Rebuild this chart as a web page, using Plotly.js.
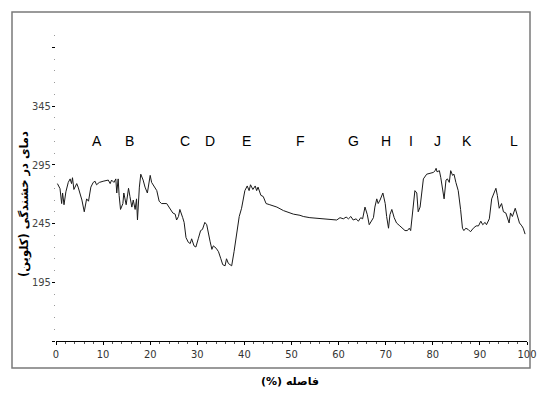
<!DOCTYPE html>
<html>
<head>
<meta charset="utf-8">
<script src="https://cdn.plot.ly/plotly-3.0.1.min.js"></script>
<style>
html,body{margin:0;padding:0;background:#fff;}
#chart{width:541px;height:394px;}
</style>
</head>
<body>
<div id="chart"></div>
<script>
// Distance along the transect (%)
const distance = [0.3,0.85,1.2,1.4,1.7,2.1,2.6,3.0,3.3,3.5,3.8,4.4,4.7,5.5,6.0,6.5,6.9,7.4,7.9,8.3,8.6,9.2,10.0,11.1,11.5,11.8,12.3,12.7,12.9,13.2,13.4,13.7,14.2,14.4,14.9,15.4,15.7,16.1,16.4,16.8,17.1,17.3,17.7,18.0,18.5,18.9,19.4,20.0,20.3,21.0,21.4,21.9,22.4,23.5,24.2,24.8,25.3,25.6,26.0,26.3,26.9,27.2,27.6,28.1,28.5,28.8,29.3,29.7,30.2,30.7,31.1,31.6,32.0,32.3,32.7,33.1,33.4,34.0,34.5,35.0,35.4,35.9,36.2,36.6,37.3,37.8,38.4,38.9,39.4,39.8,40.1,40.6,41.0,41.3,41.8,42.3,42.6,42.9,43.5,44.0,44.6,45.4,46.9,48.3,49.7,50.4,51.8,52.5,53.9,56.8,59.6,60.3,61.0,61.6,62.1,62.6,63.1,63.7,64.2,64.7,65.1,65.6,66.1,66.5,67.0,67.4,67.7,68.1,68.4,68.8,69.4,69.9,70.2,70.6,70.9,71.3,71.8,72.3,73.0,74.1,74.6,75.0,75.3,75.5,75.9,76.2,76.6,76.9,77.3,77.6,78.0,78.7,79.4,80.1,80.5,80.7,80.9,81.4,81.7,82.1,82.4,82.8,83.1,83.5,83.8,84.2,84.5,84.9,85.4,85.9,86.3,86.6,87.0,87.5,88.0,88.6,89.2,89.7,90.2,90.6,91.1,91.4,92.0,92.5,93.0,93.4,93.7,94.1,94.6,95.0,95.5,95.8,96.2,96.5,96.9,97.5,97.8,98.4,98.9,99.2,99.6];
// Brightness temperature (K)
const brightnessTemp = [279,274.7,262,271,261,272,280,283,279,284,274,279,276,265,255,266,264,276,280,281,278,280,281,282,279,282,280,283,271,283,269,257,262,271,261,275,268,259,265,257,266,248,276,287,282,276,271,286,280,275,273,264,262,262,258,254,253,248,251,257,250,246,233,229,228,232,226,225,232,239,240,246,244,237,230,223,226,224,221,215,210,209,215,211,209,221,237,251,258,265,273,277,273,278,274,277,273,276,269,268,262,261,259,256,254,253,252,251,250,249,248,250,249,250.5,249,251,248,249,247,250,249,259,252.5,244,247,250,259,266,262,265,271,262,251,241,252.5,257,250,245.5,243,239,239,241,239,245.5,262,273,271,255,259,271,283,287,288,288.5,290,292,289,290,284,273,266,282,283,280,290,286,287,280,273,257,241,239,241,240,238,241,243,243,247,244,246,244,249,266,271,275,269,258,262,255,254,251,245.5,254,251,258,254,245.5,243,241,236];

// Site labels and their locations along the transect (%)
const siteLabels = ['A','B','C','D','E','F','G','H','I','J','K','L'];
const siteDistance = [8.6,15.7,27.4,32.6,40.5,52.0,63.1,70.1,75.3,81.0,87.2,97.2];

// Axis ticks
const yTickVals = [145,195,245,295,345,395];
const yTickText = ['','195','245','295','345',''];
const xTickVals = [0,10,20,30,40,50,60,70,80,90,100];

const xTitle = '\u200Fفاصله (%)\u200F';
const yTitle = '\u200Fدمای در خشندگی (کلوین)\u200F';

const W = 541, H = 394;
const mL = 56, mR = 14, mT = 35, mB = 53;
const pw = W - mL - mR, ph = H - mT - mB;
const px = p => (p - mL) / pw;
const py = p => (H - mB - p) / ph;

const trace = {
  x: distance, y: brightnessTemp, type: 'scatter', mode: 'lines',
  line: {color: '#1a1a1a', width: 1}, hoverinfo: 'skip'
};

const annotations = siteLabels.map((t, i) => ({
  x: siteDistance[i], y: 315, xref: 'x', yref: 'y', text: t, showarrow: false,
  xanchor: 'center', yanchor: 'middle',
  font: {family: 'Liberation Sans, Arial, sans-serif', size: 14, color: '#000'}
}));
annotations.push({
  x: px(290), y: py(381), xref: 'paper', yref: 'paper', text: '<b>' + xTitle + '</b>',
  xanchor: 'center', yanchor: 'middle',
  showarrow: false, font: {family: 'DejaVu Sans, sans-serif', size: 11, color: '#000'}
});
annotations.push({
  x: px(24), y: py(204), xref: 'paper', yref: 'paper', text: '<b>' + yTitle + '</b>',
  xanchor: 'center', yanchor: 'middle',
  textangle: -90, showarrow: false, font: {family: 'DejaVu Sans, sans-serif', size: 11.5, color: '#000'}
});

const layout = {
  width: W, height: H,
  margin: {l: mL, r: mR, t: mT, b: mB, pad: 0},
  paper_bgcolor: '#fff', plot_bgcolor: '#fff',
  showlegend: false,
  xaxis: {
    range: [0, 100], tickvals: xTickVals, showgrid: false, zeroline: false,
    showline: true, linecolor: '#000', linewidth: 1,
    ticks: 'outside', ticklen: 3, tickcolor: '#000', tickwidth: 1,
    minor: {dtick: 2, tick0: 0, ticks: 'outside', ticklen: 1.5, tickcolor: '#555', tickwidth: 1},
    tickfont: {family: 'Liberation Sans Narrow, DejaVu Sans Condensed, sans-serif', size: 11, color: '#333'}
  },
  yaxis: {
    range: [145, 405.5], tickvals: yTickVals, ticktext: yTickText,
    showgrid: false, zeroline: false, showline: false,
    ticks: 'outside', ticklen: 3, tickcolor: '#000', tickwidth: 1,
    ticklabelstandoff: -1,
    minor: {dtick: 10, tick0: 145, ticks: 'outside', ticklen: 1, tickcolor: '#999', tickwidth: 1},
    tickfont: {family: 'Liberation Sans Narrow, DejaVu Sans Condensed, sans-serif', size: 11, color: '#444'}
  },
  annotations: annotations,
  shapes: [{
    type: 'rect', xref: 'paper', yref: 'paper',
    x0: px(12), x1: px(530), y0: py(368), y1: py(12),
    line: {color: '#7a7a7a', width: 1.5}, fillcolor: 'rgba(0,0,0,0)', layer: 'below'
  }]
};

Plotly.newPlot('chart', [trace], layout, {displayModeBar: false, staticPlot: true});
</script>
</body>
</html>
